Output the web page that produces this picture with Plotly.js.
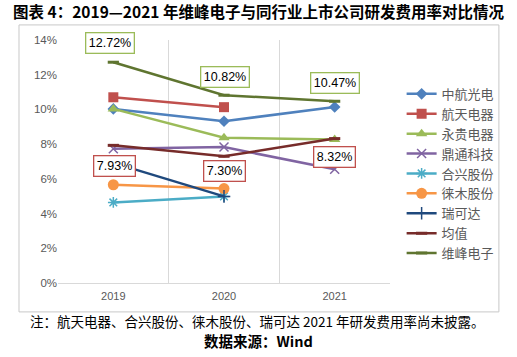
<!DOCTYPE html>
<html>
<head>
<meta charset="utf-8">
<script src="https://cdn.plot.ly/plotly-3.0.1.min.js"></script>
<style>html,body{margin:0;padding:0;background:#fff;}#chart{width:517px;height:357px;}</style>
</head>
<body>
<div id="chart"></div>
<script>
const years = ["2019", "2020", "2021"];
const seriesNames = ["中航光电", "航天电器", "永贵电器", "鼎通科技", "合兴股份", "徕木股份", "瑞可达", "均值", "维峰电子"];
const zhgd = [10.03, 9.32, 10.14];
const htdq = [10.70, 10.13, null];
const ygdq = [10.03, 8.37, 8.27];
const dtkj = [7.74, 7.83, 6.55];
const hxgf = [4.64, 4.99, null];
const lmgf = [5.66, 5.44, null];
const rkd = [6.92, 4.99, null];
const avg = [7.93, 7.30, 8.32];
const wfdz = [12.72, 10.82, 10.47];
const yTicks = [0, 2, 4, 6, 8, 10, 12, 14];
const yTickText = ["0%", "2%", "4%", "6%", "8%", "10%", "12%", "14%"];

const values = [zhgd, htdq, ygdq, dtkj, hxgf, lmgf, rkd, avg, wfdz];
const colors = ["#4F81BD", "#C0504D", "#9BBB59", "#8064A2", "#4BACC6", "#F79646", "#1F497D", "#772C2A", "#5F7530"];
const symbols = ["diamond", "square", "triangle-up", "x-thin-open", "asterisk-open", "circle", "cross-thin-open", "line-ew-open", "line-ew-open"];
const sizes = [9, 10, 10, 9, 9, 11, 9, 8, 8];

const traces = seriesNames.map((n, i) => ({
  type: "scatter", mode: "lines+markers", name: n,
  x: years, y: values[i].map(v => v),
  line: {color: colors[i], width: 2.5},
  marker: {symbol: symbols[i], size: sizes[i], color: colors[i], line: {color: colors[i], width: (i === 3 || i === 4 || i === 6) ? 1.5 : (i >= 7 ? 3 : 0)}},
  connectgaps: false
}));

const lbl = {family: "Liberation Sans, Arial, sans-serif", size: 12.5, color: "#000"};
const annotations = [];
years.forEach((yr, i) => {
  annotations.push({x: i, y: wfdz[i], xref: "x", yref: "y", text: wfdz[i].toFixed(2) + "%", showarrow: false,
    yshift: [19, 18, 18][i], xshift: [-3, 1, 0][i], bordercolor: "#9BBB59", borderwidth: 1.3, borderpad: 2.5, bgcolor: "#fff", font: lbl});
  annotations.push({x: i, y: avg[i], xref: "x", yref: "y", text: avg[i].toFixed(2) + "%", showarrow: false,
    yshift: [-21, -15, -18][i], xshift: [1, 0, 0][i], bordercolor: "#C0504D", borderwidth: 1.3, borderpad: 2.5, bgcolor: "#fff", font: lbl});
});
annotations.push({xref: "paper", yref: "paper", x: 0.6, y: -0.156, xanchor: "center", yanchor: "middle", showarrow: false,
  text: "注：航天电器、合兴股份、徕木股份、瑞可达 2021 年研发费用率尚未披露。",
  font: {family: "Noto Sans CJK SC, sans-serif", size: 13.5, color: "#000"}});
annotations.push({xref: "paper", yref: "paper", x: 0.605, y: -0.236, xanchor: "center", yanchor: "middle", showarrow: false,
  text: "<b>数据来源：Wind</b>",
  font: {family: "Noto Sans CJK SC, sans-serif", size: 14.5, color: "#000"}});

const layout = {
  width: 517, height: 357,
  margin: {l: 58, r: 127, t: 40, b: 74},
  paper_bgcolor: "#fff", plot_bgcolor: "#fff",
  title: {text: "<b>图表 4：2019—2021 年维峰电子与同行业上市公司研发费用率对比情况</b>",
    x: 0.5, xref: "container", xanchor: "center", y: 0.966, yref: "container", yanchor: "middle",
    font: {family: "Noto Sans CJK SC, sans-serif", size: 15.5, color: "#000"}},
  xaxis: {type: "category", categoryorder: "array", categoryarray: years, tickson: "boundaries",
    range: [-0.5, 2.5], showgrid: true, gridcolor: "#D9D9D9", gridwidth: 1,
    showline: true, linecolor: "#D9D9D9", linewidth: 1, ticks: "", zeroline: false, ticklabelstandoff: 3,
    tickfont: {family: "Liberation Sans, Arial, sans-serif", size: 11, color: "#595959"}},
  yaxis: {range: [0, 14], tickvals: yTicks, ticktext: yTickText, showgrid: false, zeroline: false,
    showline: false, ticks: "",
    tickfont: {family: "Liberation Sans, Arial, sans-serif", size: 11.5, color: "#595959"}},
  legend: {x: 1.035, xanchor: "left", y: 0.84, yanchor: "top", traceorder: "normal",
    font: {family: "Noto Sans CJK SC, sans-serif", size: 13, color: "#595959"},
    bgcolor: "rgba(0,0,0,0)", itemwidth: 30, tracegroupgap: 0},
  showlegend: true,
  annotations: annotations,
  shapes: [{type: "rect", xref: "paper", yref: "paper", x0: -0.1175, x1: 1.328, y0: -0.119, y1: 1.062,
    line: {color: "#C8C8C8", width: 1}, layer: "above"}]
};

Plotly.newPlot("chart", traces, layout, {staticPlot: true});
</script>
</body>
</html>
